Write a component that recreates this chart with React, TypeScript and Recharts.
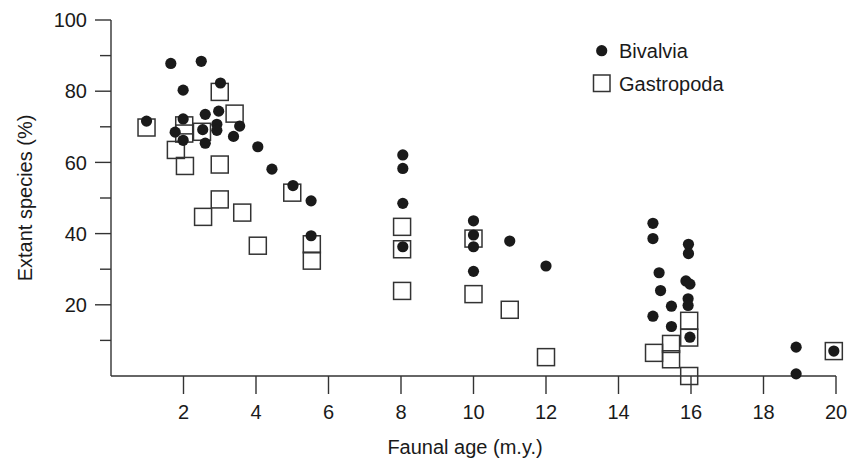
import { ScatterChart, Scatter, XAxis, YAxis, Legend } from "recharts";

const xTicks = [2, 4, 6, 8, 10, 12, 14, 16, 18, 20];
const yTicks = [10, 20, 30, 40, 50, 60, 70, 80, 90, 100];

const bivalvia = [
  { x: 0.98, y: 71.6 }, { x: 1.65, y: 87.8 }, { x: 2.49, y: 88.4 }, { x: 3.02, y: 82.3 },
  { x: 1.99, y: 80.3 }, { x: 2.6, y: 73.5 }, { x: 2.97, y: 74.4 }, { x: 1.99, y: 72.2 },
  { x: 1.77, y: 68.5 }, { x: 1.99, y: 66.2 }, { x: 2.53, y: 69.2 }, { x: 2.6, y: 65.4 },
  { x: 2.92, y: 70.7 }, { x: 2.92, y: 69.0 }, { x: 3.55, y: 70.2 }, { x: 3.38, y: 67.3 },
  { x: 4.05, y: 64.4 }, { x: 4.44, y: 58.1 }, { x: 5.02, y: 53.5 }, { x: 5.52, y: 49.2 },
  { x: 5.52, y: 39.4 }, { x: 8.05, y: 62.1 }, { x: 8.05, y: 58.3 }, { x: 8.05, y: 48.5 },
  { x: 8.05, y: 36.3 }, { x: 10.0, y: 43.6 }, { x: 10.0, y: 39.6 }, { x: 10.0, y: 36.3 },
  { x: 10.0, y: 29.4 }, { x: 11.0, y: 37.9 }, { x: 12.0, y: 30.9 }, { x: 14.95, y: 42.9 },
  { x: 14.95, y: 38.6 }, { x: 15.93, y: 37.0 }, { x: 15.93, y: 34.4 }, { x: 15.12, y: 29.0 },
  { x: 15.86, y: 26.7 }, { x: 15.97, y: 25.8 }, { x: 15.16, y: 24.0 }, { x: 15.92, y: 21.7 },
  { x: 15.92, y: 19.8 }, { x: 15.46, y: 19.6 }, { x: 14.95, y: 16.8 }, { x: 15.46, y: 13.9 },
  { x: 15.97, y: 10.9 }, { x: 18.9, y: 8.1 }, { x: 18.9, y: 0.6 }, { x: 19.94, y: 7.0 },
];

const gastropoda = [
  { x: 0.98, y: 69.8 }, { x: 2.02, y: 70.4 }, { x: 2.02, y: 68.1 }, { x: 1.79, y: 63.5 },
  { x: 2.04, y: 59.0 }, { x: 2.51, y: 68.6 }, { x: 3.0, y: 79.8 }, { x: 3.41, y: 73.7 },
  { x: 3.0, y: 59.4 }, { x: 3.0, y: 49.6 }, { x: 2.54, y: 44.7 }, { x: 3.62, y: 45.9 },
  { x: 4.05, y: 36.6 }, { x: 5.0, y: 51.5 }, { x: 5.54, y: 37.0 }, { x: 5.54, y: 32.4 },
  { x: 8.03, y: 41.9 }, { x: 8.03, y: 35.6 }, { x: 8.03, y: 23.9 }, { x: 10.0, y: 38.6 },
  { x: 10.0, y: 23.0 }, { x: 11.0, y: 18.6 }, { x: 12.0, y: 5.3 }, { x: 14.98, y: 6.5 },
  { x: 15.45, y: 9.0 }, { x: 15.45, y: 4.7 }, { x: 15.95, y: 15.5 }, { x: 15.95, y: 10.8 },
  { x: 15.95, y: 0 }, { x: 19.94, y: 7.0 },
];

const FONT = "'Liberation Sans', Arial, Helvetica, sans-serif";
const INK = "#1a1a1a";

const Dot = (props: any) => (
  <circle cx={props.cx} cy={props.cy} r={5.6} fill={INK} />
);

const Square = (props: any) => (
  <rect x={props.cx - 8.5} y={props.cy - 8.5} width={17} height={17}
    fill="none" stroke="#333" strokeWidth={1.5} />
);

const YTick = (props: any) => {
  const { x, y, payload } = props;
  const major = payload.value % 20 === 0;
  return (
    <g>
      <line x1={x - (major ? 16 : 11)} x2={x} y1={y} y2={y} stroke="#333" strokeWidth={1.4} />
      {major && (
        <text x={x - 24} y={y} dy="0.36em" textAnchor="end" fontSize={20} fontFamily={FONT} fill={INK}>
          {payload.value}
        </text>
      )}
    </g>
  );
};

const XTick = (props: any) => {
  const { x, y, payload } = props;
  return (
    <g>
      <line x1={x} x2={x} y1={y} y2={y + 18} stroke="#333" strokeWidth={1.4} />
      <text x={x} y={y + 43} textAnchor="middle" fontSize={20} fontFamily={FONT} fill={INK}>
        {payload.value}
      </text>
    </g>
  );
};

const legendContent = () => (
  <svg width={200} height={72}>
    <circle cx={21.7} cy={20.7} r={5.6} fill={INK} />
    <text x={39} y={27.5} fontSize={20} fontFamily={FONT} fill={INK}>Bivalvia</text>
    <rect x={13.5} y={45} width={16.5} height={16.5} fill="none" stroke="#333" strokeWidth={1.5} />
    <text x={39} y={60.5} fontSize={20} fontFamily={FONT} fill={INK}>Gastropoda</text>
  </svg>
);

export default function App() {
  return (
    <div style={{ position: "absolute", left: 0, top: 0, width: 851, height: 460, background: "#fff" }}>
      <ScatterChart width={851} height={460} margin={{ top: 20, right: 15, bottom: 54, left: 51 }}>
        <XAxis
          type="number" dataKey="x" domain={[0, 20]} ticks={xTicks}
          tickSize={0} tickMargin={0} tickLine={false} tick={<XTick />}
          axisLine={{ stroke: "#333", strokeWidth: 1.4 }}
          label={{
            content: () => (
              <text x={465} y={454} textAnchor="middle" fontSize={20} fontFamily={FONT} fill={INK}>
                Faunal age (m.y.)
              </text>
            ),
          }}
        />
        <YAxis
          type="number" dataKey="y" domain={[0, 100]} ticks={yTicks}
          tickSize={0} tickMargin={0} tickLine={false} tick={<YTick />}
          axisLine={{ stroke: "#333", strokeWidth: 1.4 }}
          label={{
            content: () => (
              <text transform="translate(32,198) rotate(-90)" textAnchor="middle" fontSize={20} fontFamily={FONT} fill={INK}>
                Extant species (%)
              </text>
            ),
          }}
        />
        <Legend
          layout="horizontal" align="center" verticalAlign="middle"
          content={legendContent}
          wrapperStyle={{ left: 580, top: 30, width: 200, height: 72 }}
        />
        <Scatter name="Gastropoda" data={gastropoda} shape={<Square />} isAnimationActive={false} />
        <Scatter name="Bivalvia" data={bivalvia} shape={<Dot />} isAnimationActive={false} />
      </ScatterChart>
    </div>
  );
}
